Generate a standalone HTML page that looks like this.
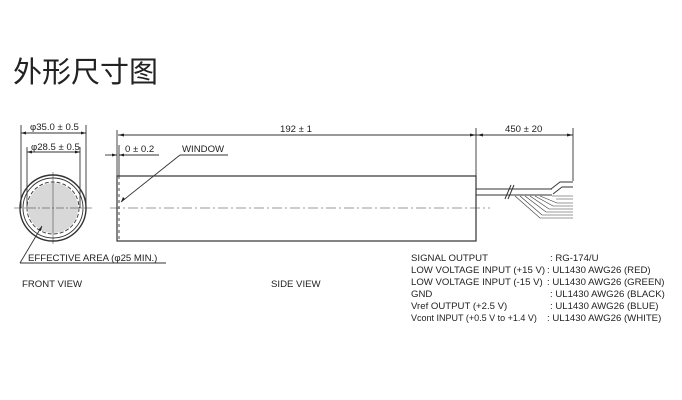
<!DOCTYPE html><html><head><meta charset="utf-8"><style>body{margin:0;background:#fff}svg{display:block}text{font-family:"Liberation Sans",Arial,sans-serif;fill:#222}</style></head><body>
<svg width="682" height="400" viewBox="0 0 682 400" xmlns="http://www.w3.org/2000/svg">
<text x="13" y="82" style="font-family:'Liberation Sans','Noto Sans CJK SC',sans-serif;font-size:29px;fill:#222">外形尺寸图</text>
<g stroke="#333" stroke-width="0.9" fill="none">
<line x1="21" y1="125" x2="21" y2="208"/><line x1="86" y1="125" x2="86" y2="208"/>
<line x1="21" y1="133" x2="86" y2="133"/>
<line x1="27" y1="147" x2="27" y2="208"/><line x1="80" y1="147" x2="80" y2="208"/>
<line x1="27" y1="152" x2="80" y2="152"/>
<circle cx="53" cy="208" r="25" fill="#d8d8d8" stroke="none"/>
<circle cx="53" cy="208" r="33" stroke-width="1.4"/>
<circle cx="53" cy="208" r="30"/>
<circle cx="53" cy="208" r="26" stroke-dasharray="4,2"/>
<line x1="14" y1="208" x2="92" y2="208" stroke-dasharray="8,2,2,2" stroke-width="0.5"/>
<line x1="53" y1="172" x2="53" y2="244" stroke-width="0.5"/>
<line x1="42" y1="226" x2="20" y2="263"/><line x1="20" y1="263" x2="166" y2="263"/>
<rect x="117" y="176" width="359" height="65" stroke-width="1.2"/>
<line x1="117" y1="130" x2="117" y2="176"/><line x1="119" y1="145" x2="119" y2="176"/>
<line x1="119" y1="176" x2="119" y2="241" stroke-dasharray="3,3"/>
<line x1="118" y1="135" x2="476" y2="135"/>
<line x1="476" y1="128" x2="476" y2="176"/>
<line x1="105" y1="155" x2="117" y2="155"/><line x1="119" y1="155" x2="159" y2="155"/>
<line x1="180" y1="155" x2="228" y2="155"/><line x1="180" y1="155" x2="121" y2="202"/>
<line x1="110" y1="208" x2="490" y2="208" stroke-dasharray="10,3,2,3" stroke-width="0.5"/>
<line x1="476" y1="135" x2="573" y2="135"/>
<line x1="573" y1="128" x2="573" y2="181"/>
<line x1="476" y1="189" x2="552" y2="189"/><line x1="476" y1="195" x2="552" y2="195"/>
<line x1="505" y1="199" x2="511" y2="185" stroke-width="1"/><line x1="508" y1="199" x2="514" y2="185" stroke-width="1"/>
<path d="M551 189 L560 182 L573 182 M553 194 L562 187 L573 187"/>
<path d="M515 196 L540 218 L573 218 M520 196 L542 215 L573 215 M525 196 L546 212 L573 212 M530 196 L549 209 L573 209 M535 196 L553 206 L573 206 M540 196 L557 203 L573 203 M552 196 L573 196 M556 199 L573 199" stroke-width="0.6"/>
</g>
<g fill="#222">
<path d="M21 133 l5 -1.5 v3z M86 133 l-5 -1.5 v3z M27 152 l5 -1.5 v3z M80 152 l-5 -1.5 v3z M118 135 l6 -1.5 v3z M476 135 l-6 -1.5 v3z M477 135 l6 -1.5 v3z M573 135 l-6 -1.5 v3z M117 155 l-5 -1.5 v3z M119 155 l5 -1.5 v3z M121 202 l2 -5 l2 2z M42 226 l-1 5 l-2.5 -1.5z"/>
</g>
<g style="font-size:9.6px">
<text x="30" y="130">φ35.0 ± 0.5</text>
<text x="31" y="150">φ28.5 ± 0.5</text>
<text x="125" y="152">0 ± 0.2</text>
<text x="182" y="152">WINDOW</text>
<text x="280" y="132">192 ± 1</text>
<text x="505" y="132">450 ± 20</text>
<text x="28" y="261">EFFECTIVE AREA (φ25 MIN.)</text>
<text x="22" y="287">FRONT VIEW</text>
<text x="271" y="287">SIDE VIEW</text>
<text x="411" y="261">SIGNAL OUTPUT</text><text x="550" y="261">: RG-174/U</text>
<text x="411" y="273">LOW VOLTAGE INPUT (+15 V)</text><text x="547" y="273">: UL1430 AWG26 (RED)</text>
<text x="411" y="285">LOW VOLTAGE INPUT (-15 V)</text><text x="547" y="285">: UL1430 AWG26 (GREEN)</text>
<text x="411" y="297">GND</text><text x="550" y="297">: UL1430 AWG26 (BLACK)</text>
<text x="411" y="309">Vref OUTPUT (+2.5 V)</text><text x="550" y="309">: UL1430 AWG26 (BLUE)</text>
<text x="411" y="321" style="font-size:9px">Vcont INPUT (+0.5 V to +1.4 V)</text><text x="547" y="321">: UL1430 AWG26 (WHITE)</text>
</g>
</svg></body></html>
